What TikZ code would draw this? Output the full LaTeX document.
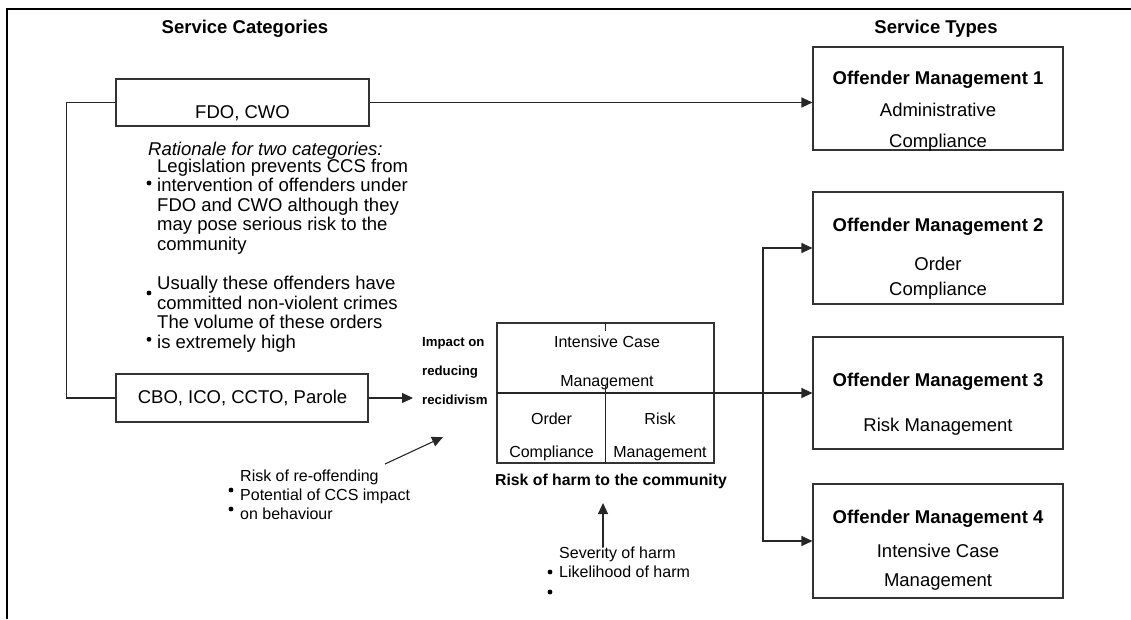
\documentclass[tikz,border=0pt]{standalone}
\usepackage{fontspec}
\setmainfont{Liberation Sans}
\usetikzlibrary{arrows.meta}
\begin{document}
\begin{tikzpicture}[x=1pt,y=-1pt,
  line/.style={draw=black!85, line width=1.1pt},
  arr/.style={line, -{Triangle[length=11pt,width=10pt]}},
  box/.style={draw=black!80, line width=1.1pt, inner sep=0pt},
  % multi-line texts are placed by the baseline of their last line
  txt/.style={inner sep=0pt, align=left, anchor=base west},
  ctr/.style={inner sep=0pt, align=center, anchor=base},
  head/.style={font=\fontsize{18.5}{19.6}\selectfont\bfseries},
  body/.style={font=\fontsize{18.5}{#1}\selectfont},
  body/.default=19.6,
  note/.style={font=\fontsize{16}{#1}\selectfont},
  note/.default=19.3,
  axis/.style={font=\fontsize{13.2}{29.25}\selectfont\bfseries},
  dot/.style={circle, fill=black, inner sep=0pt, minimum size=4.8pt},
]
\useasboundingbox (0,0) rectangle (1131,619);

% outer frame (top and left edges)
\draw[line width=2pt] (7,619) -- (7,9) -- (1131,9);

% column headings
\node[head, ctr] (catTitle) at (245,33.3) {Service Categories};
\node[head, ctr] (typeTitle) at (936,33.3) {Service Types};

% service categories
\node[box, minimum width=253pt, minimum height=47pt] (fdo) at (242.5,102.5) {};
\node[body, ctr] (fdoText) at (242.5,118.2) {FDO, CWO};
\node[box, minimum width=252pt, minimum height=48pt] (cbo) at (242,398) {};
\node[body, ctr] (cboText) at (242.5,403.6) {CBO, ICO, CCTO, Parole};

% rationale
\node[txt, font=\fontsize{18.5}{19.6}\selectfont\itshape] (rat) at (148,155.6) {Rationale for two categories:};
\node[body, txt] (ratA) at (157,250.5) {Legislation prevents CCS from\\intervention of offenders under\\FDO and CWO although they\\may pose serious risk to the\\community};
\node[body, txt] (ratB) at (157,348.5) {Usually these offenders have\\committed non-violent crimes\\The volume of these orders\\is extremely high};
\node[dot] (ratDot1) at (149,183) {};
\node[dot] (ratDot2) at (149,293) {};
\node[dot] (ratDot3) at (149,339.3) {};

% service types
\node[box, minimum width=250pt, minimum height=103pt] (om1) at (938,98.5) {};
\node[head, ctr] (om1t) at (938,84.9) {Offender Management 1};
\node[ctr, body=31] (om1b) at (938,147) {Administrative\\Compliance};

\node[box, minimum width=250pt, minimum height=112pt] (om2) at (938,248) {};
\node[head, ctr] (om2t) at (938,231.6) {Offender Management 2};
\node[ctr, body=24.5] (om2b) at (938,295.1) {Order\\Compliance};

\node[box, minimum width=250pt, minimum height=112pt] (om3) at (938,393) {};
\node[head, ctr] (om3t) at (938,386.6) {Offender Management 3};
\node[ctr, body] (om3b) at (938,431.6) {Risk Management};

\node[box, minimum width=250pt, minimum height=114pt] (om4) at (938,541) {};
\node[head, ctr] (om4t) at (938,523.6) {Offender Management 4};
\node[ctr, body=29] (om4b) at (938,586.6) {Intensive Case\\Management};

% risk matrix
\node[box, minimum width=217pt, minimum height=140pt] (mtx) at (605.5,393) {};
\node[ctr, note=38.5] (icm) at (607,386.2) {Intensive Case\\Management};
\node[ctr, note=33.5] (oc) at (551.5,457.7) {Order\\Compliance};
\node[ctr, note=33.5] (rm) at (660,457.7) {Risk\\Management};
\draw[line] (mtx.south) -- ++(0,-79);
\draw[line] (mtx.north) -- ++(0,9);
\node[axis, txt] (impact) at (422,404.7) {Impact on\\reducing\\recidivism};
\node[ctr, font=\fontsize{15.8}{19}\selectfont\bfseries] (harm) at (611,485.6) {Risk of harm to the community};

% drivers of the two axes
\node[note, txt] (reoff) at (240,519.8) {Risk of re-offending\\Potential of CCS impact\\on behaviour};
\node[dot] (reoffDot1) at (231,490) {};
\node[dot] (reoffDot2) at (231,509) {};
\node[note=19, txt] (sev) at (559,577.2) {Severity of harm\\Likelihood of harm};
\node[dot] (sevDot1) at (550,572) {};
\node[dot] (sevDot2) at (550,592) {};

% connectors
\coordinate (recid) at (413,398);
\coordinate (junc) at (763,393);
\coordinate (reoffTail) at (385,464);
\coordinate (reoffTip) at (443,437);
\coordinate (sevTail) at (603,547);
\coordinate (sevTip) at (603,503);

\draw[line] (fdo.west) -- ++(-49,0) |- (cbo.west);
\draw[arr] (fdo.east) -- (fdo.east -| om1.west);
\draw[arr] (cbo.east) -- (recid);
\draw[arr] (mtx.west) -- (om3.west);
\draw[arr] (junc) |- (om2.west);
\draw[arr] (junc) |- (om4.west);
\draw[arr] (reoffTail) -- (reoffTip);
\draw[arr] (sevTail) -- (sevTip);
\end{tikzpicture}
\end{document}
